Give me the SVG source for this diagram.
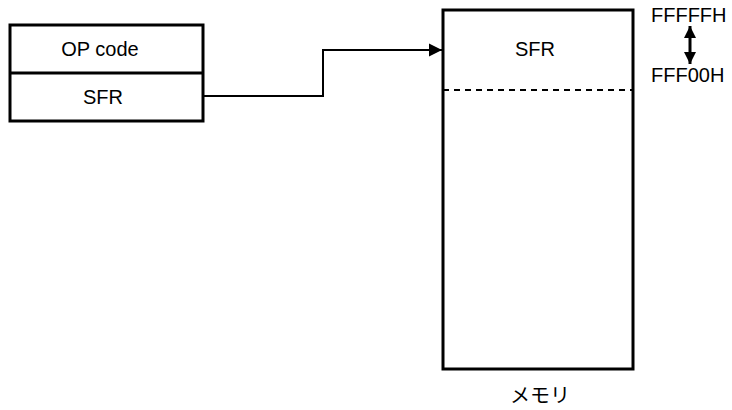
<svg xmlns="http://www.w3.org/2000/svg" width="732" height="410" viewBox="0 0 732 410">
<style>
.box{fill:#fff;stroke:#000;stroke-width:3}
.ln{fill:none;stroke:#000;stroke-width:2}
.t{font-family:"Liberation Sans",Arial,"Noto Sans CJK JP",sans-serif;font-size:20px;fill:#000}
.m{text-anchor:middle}
</style>
<defs>
<marker id="ah" viewBox="0 0 10 10" refX="10" refY="5" markerWidth="6.5" markerHeight="7" orient="auto-start-reverse" markerUnits="strokeWidth">
<path d="M0,0 L10,5 L0,10 z" fill="#000"/>
</marker>
<marker id="ah2" viewBox="0 0 10 10" refX="10" refY="5" markerWidth="4" markerHeight="4.5" orient="auto-start-reverse" markerUnits="strokeWidth">
<path d="M0,0 L10,5 L0,10 z" fill="#000"/>
</marker>
</defs>
<g id="connectors">
<path class="ln" d="M204,96 H323 V50 H442" marker-end="url(#ah)"/>
<line x1="690" y1="26" x2="690" y2="64" stroke="#000" stroke-width="3" marker-start="url(#ah2)" marker-end="url(#ah2)"/>
</g>
<g id="instruction">
<rect class="box" x="10" y="25" width="193" height="96"/>
<line class="box" x1="10" y1="73" x2="203" y2="73"/>
<text class="t m" x="100" y="56">OP code</text>
<text class="t m" x="103" y="104">SFR</text>
</g>
<g id="memory">
<rect class="box" x="443" y="10" width="190" height="359"/>
<line x1="443" y1="90" x2="633" y2="90" stroke="#000" stroke-width="2" stroke-dasharray="6,5"/>
<text class="t m" x="535" y="56">SFR</text>
<text class="t m" x="540" y="403">メモリ</text>
</g>
<g id="addresses">
<text class="t" x="651" y="22">FFFFFH</text>
<text class="t" x="651" y="82">FFF00H</text>
</g>
</svg>
